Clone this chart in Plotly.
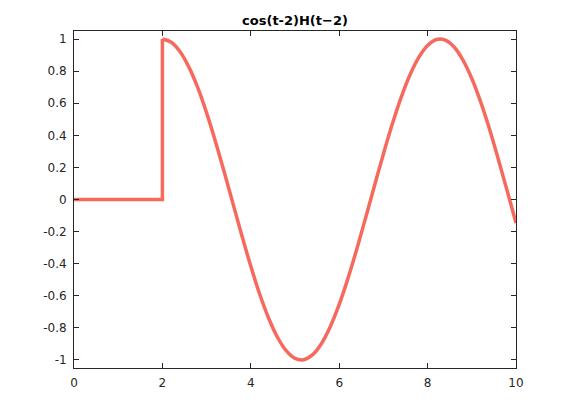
import plotly.graph_objects as go

# Data
t_step = [0, 2, 2]
y_step = [0, 0, 1]
t_curve = [2.0, 2.2, 2.4, 2.6, 2.8, 3.0, 3.2, 3.4, 3.6, 3.8, 4.0, 4.2, 4.4, 4.6, 4.8,
           5.0, 5.2, 5.4, 5.6, 5.8, 6.0, 6.2, 6.4, 6.6, 6.8, 7.0, 7.2, 7.4, 7.6, 7.8,
           8.0, 8.2, 8.4, 8.6, 8.8, 9.0, 9.2, 9.4, 9.6, 9.8, 10.0]
y_curve = [1.000, 0.980, 0.921, 0.825, 0.697, 0.540, 0.362, 0.170, -0.029, -0.227,
           -0.416, -0.589, -0.737, -0.857, -0.942, -0.990, -0.998, -0.967, -0.897, -0.791,
           -0.654, -0.490, -0.307, -0.112, 0.087, 0.284, 0.469, 0.635, 0.776, 0.886,
           0.960, 0.997, 0.993, 0.950, 0.869, 0.754, 0.608, 0.439, 0.251, 0.054, -0.146]

x_ticks = [0, 2, 4, 6, 8, 10]
x_labels = ["0", "2", "4", "6", "8", "10"]
y_ticks = [-1, -0.8, -0.6, -0.4, -0.2, 0, 0.2, 0.4, 0.6, 0.8, 1]
y_labels = ["-1", "-0.8", "-0.6", "-0.4", "-0.2", "0", "0.2", "0.4", "0.6", "0.8", "1"]

color = "rgb(246,106,94)"
fig = go.Figure()
fig.add_trace(go.Scatter(x=t_step, y=y_step, mode="lines",
                         line=dict(color=color, width=3.5), showlegend=False,
                         cliponaxis=False))
fig.add_trace(go.Scatter(x=t_curve, y=y_curve, mode="lines",
                         line=dict(color=color, width=3.5, shape="spline", smoothing=1.0),
                         showlegend=False, cliponaxis=False))

axis_common = dict(showline=True, mirror="ticks", ticks="inside", ticklen=5,
                   linecolor="#262626", linewidth=1, tickcolor="#262626",
                   showgrid=False, zeroline=False,
                   tickfont=dict(family="DejaVu Sans", size=12, color="#262626"))

fig.update_xaxes(range=[0, 10], tickvals=x_ticks, ticktext=x_labels,
                 ticklabelstandoff=4, **axis_common)
fig.update_yaxes(range=[-1.05, 1.05], tickvals=y_ticks, ticktext=y_labels,
                 ticklabelstandoff=4, **axis_common)

# page body has an 8px margin, so offsets are compensated
W, H = 570, 413
fig.update_layout(
    width=W, height=H,
    margin=dict(l=66, r=62, t=23, b=53),
    paper_bgcolor="white", plot_bgcolor="white",
    title=dict(text="<b>cos(t-2)H(t−2)</b>", x=287 / W, xanchor="center",
               y=1 - 12 / H, yanchor="middle",
               font=dict(family="DejaVu Sans", size=13, color="black")),
)

fig.write_html("out.html")
